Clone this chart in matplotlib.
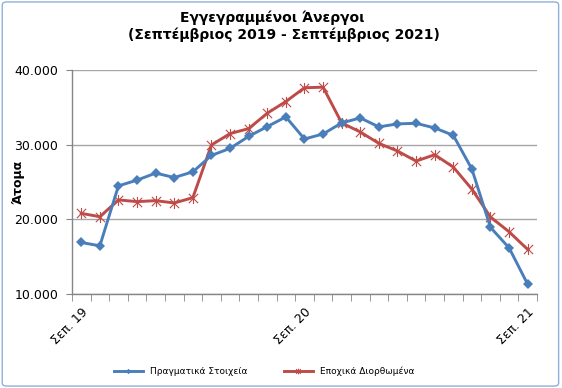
import matplotlib
matplotlib.use("Agg")
import matplotlib.pyplot as plt
from matplotlib.path import Path
from matplotlib.patches import FancyBboxPatch
from matplotlib.ticker import FuncFormatter, FixedLocator

months = ["Σεπ. 19", "Οκτ. 19", "Νοε. 19", "Δεκ. 19", "Ιαν. 20", "Φεβ. 20", "Μαρ. 20",
          "Απρ. 20", "Μαϊ. 20", "Ιουν. 20", "Ιουλ. 20", "Αυγ. 20", "Σεπ. 20", "Οκτ. 20",
          "Νοε. 20", "Δεκ. 20", "Ιαν. 21", "Φεβ. 21", "Μαρ. 21", "Απρ. 21", "Μαϊ. 21",
          "Ιουν. 21", "Ιουλ. 21", "Αυγ. 21", "Σεπ. 21"]
actual = [16900, 16450, 24480, 25250, 26190, 25600, 26360, 28560, 29500, 31110, 32420,
          33720, 30760, 31430, 32910, 33580, 32380, 32780, 32860, 32240, 31250, 26730,
          18920, 16180, 11300]
seasonal = [20800, 20350, 22600, 22370, 22500, 22190, 22900, 29960, 31480, 32150, 34210,
            35780, 37620, 37700, 32910, 31700, 30170, 29150, 27800, 28650, 27000, 24040,
            20310, 18330, 15960]
label_idx = [0, 12, 24]
yticks = [10000, 20000, 30000, 40000]

blue = "#4A7EBB"
red = "#BE4B48"

fig = plt.figure(figsize=(5.62, 3.88), dpi=100)
fig.patches.append(FancyBboxPatch((0.004, 0.005), 0.99, 0.99, boxstyle="round,pad=0,rounding_size=0.008",
                                  transform=fig.transFigure, fill=False, edgecolor="#8FB0DC", lw=1.0))
ax = fig.add_axes([0.128, 0.2423, 0.8275, 0.5773])

x = list(range(len(months)))
star = Path([(-1, -1), (1, 1), (-1, 1), (1, -1), (0, -1.2), (0, 1.2)],
            [Path.MOVETO, Path.LINETO, Path.MOVETO, Path.LINETO, Path.MOVETO, Path.LINETO])

ax.plot(x, seasonal, color=red, lw=2.1, marker=star, markersize=8, markeredgewidth=0.8,
        markerfacecolor="none", markeredgecolor=red, label="Εποχικά Διορθωμένα", zorder=3)
ax.plot(x, actual, color=blue, lw=2.1, marker="D", markersize=5.5, markeredgewidth=0,
        markerfacecolor=blue, label="Πραγματικά Στοιχεία", zorder=4)

ax.set_xlim(-0.5, len(months) - 0.5)
ax.set_ylim(10000, 40000)
ax.set_yticks(yticks)
ax.yaxis.set_major_formatter(FuncFormatter(lambda v, p: f"{int(v):,}".replace(",", ".")))
ax.grid(axis="y", color="#A6A6A6", lw=1.0)
ax.set_axisbelow(True)

ax.set_xticks(label_idx)
ax.set_xticklabels([months[i] for i in label_idx], rotation=45, ha="right", va="top",
                   rotation_mode="anchor", fontsize=9)
ax.xaxis.set_minor_locator(FixedLocator([i - 0.5 for i in range(len(months) + 1)]))
ax.tick_params(axis="x", which="major", length=0, pad=8)
ax.tick_params(axis="x", which="minor", length=5, color="#868686", direction="out")
ax.tick_params(axis="y", length=4, color="#868686", direction="out", labelsize=9, pad=6)

for s in ["top", "right"]:
    ax.spines[s].set_visible(False)
for s in ["left", "bottom"]:
    ax.spines[s].set_color("#868686")
    ax.spines[s].set_linewidth(1.0)

fig.text(18 / 562, 1 - 182 / 388, "Άτομα", rotation=90, ha="center", va="center",
         fontsize=9, fontweight="bold")

fig.text(0.484, 0.955, "Εγγεγραμμένοι Άνεργοι", ha="center", va="center",
         fontsize=10, fontweight="bold")
fig.text(0.506, 0.91, "(Σεπτέμβριος 2019 - Σεπτέμβριος 2021)", ha="center", va="center",
         fontsize=10, fontweight="bold")

h, l = ax.get_legend_handles_labels()
fig.legend(h[::-1], l[::-1], loc="center", bbox_to_anchor=(0.47, 0.042), ncol=2, frameon=False,
           fontsize=6.5, handlelength=3.2, columnspacing=4, markerscale=0.5)

fig.savefig("out.png", dpi=100)
